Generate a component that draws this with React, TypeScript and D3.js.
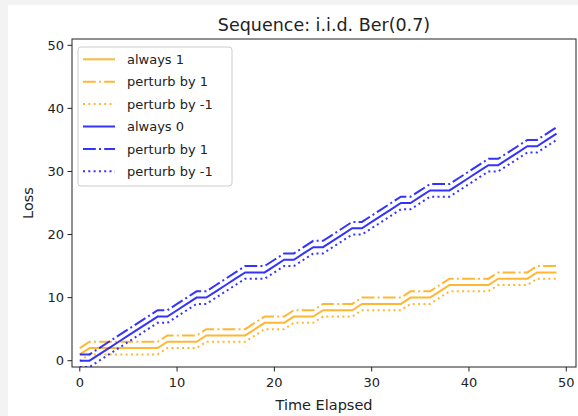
import React from "react";
import * as d3 from "d3";

// time index 0..49
const timeSteps = d3.range(50);

// cumulative losses
const alwaysOne = [1, 2, 2, 2, 2, 2, 2, 2, 2, 3, 3, 3, 3, 4, 4, 4, 4, 4, 5, 6, 6, 6, 7, 7, 7, 8, 8, 8, 8, 9, 9, 9, 9, 9, 10, 10, 10, 11, 12, 12, 12, 12, 12, 13, 13, 13, 13, 14, 14, 14];
const alwaysOnePlus = [2, 3, 3, 3, 3, 3, 3, 3, 3, 4, 4, 4, 4, 5, 5, 5, 5, 5, 6, 7, 7, 7, 8, 8, 8, 9, 9, 9, 9, 10, 10, 10, 10, 10, 11, 11, 11, 12, 13, 13, 13, 13, 13, 14, 14, 14, 14, 15, 15, 15];
const alwaysOneMinus = [0, 1, 1, 1, 1, 1, 1, 1, 1, 2, 2, 2, 2, 3, 3, 3, 3, 3, 4, 5, 5, 5, 6, 6, 6, 7, 7, 7, 7, 8, 8, 8, 8, 8, 9, 9, 9, 10, 11, 11, 11, 11, 11, 12, 12, 12, 12, 13, 13, 13];
const alwaysZero = [0, 0, 1, 2, 3, 4, 5, 6, 7, 7, 8, 9, 10, 10, 11, 12, 13, 14, 14, 14, 15, 16, 16, 17, 18, 18, 19, 20, 21, 21, 22, 23, 24, 25, 25, 26, 27, 27, 27, 28, 29, 30, 31, 31, 32, 33, 34, 34, 35, 36];
const alwaysZeroPlus = [1, 1, 2, 3, 4, 5, 6, 7, 8, 8, 9, 10, 11, 11, 12, 13, 14, 15, 15, 15, 16, 17, 17, 18, 19, 19, 20, 21, 22, 22, 23, 24, 25, 26, 26, 27, 28, 28, 28, 29, 30, 31, 32, 32, 33, 34, 35, 35, 36, 37];
const alwaysZeroMinus = [-1, -1, 0, 1, 2, 3, 4, 5, 6, 6, 7, 8, 9, 9, 10, 11, 12, 13, 13, 13, 14, 15, 15, 16, 17, 17, 18, 19, 20, 20, 21, 22, 23, 24, 24, 25, 26, 26, 26, 27, 28, 29, 30, 30, 31, 32, 33, 33, 34, 35];

const labels = ["always 1", "perturb by 1", "perturb by -1", "always 0", "perturb by 1", "perturb by -1"];
const xTicks = [0, 10, 20, 30, 40, 50];
const yTicks = [0, 10, 20, 30, 40, 50];

const ORANGE = "#ffa500";
const BLUE = "#0000ff";
const DASHDOT = "12.8,3.2,2,3.2";
const DOTTED = "2,3.3";
const FONT = "DejaVu Sans, sans-serif";

const series = [
  { values: alwaysOne, color: ORANGE, dash: undefined },
  { values: alwaysOnePlus, color: ORANGE, dash: DASHDOT },
  { values: alwaysOneMinus, color: ORANGE, dash: DOTTED },
  { values: alwaysZero, color: BLUE, dash: undefined },
  { values: alwaysZeroPlus, color: BLUE, dash: DASHDOT },
  { values: alwaysZeroMinus, color: BLUE, dash: DOTTED },
];

export default function App() {
  const W = 578, H = 416;
  const left = 72, right = 576, top = 39, bottom = 367;

  const x = d3.scaleLinear().domain([-0.8, 51]).range([left, right]);
  const y = d3.scaleLinear().domain([-1, 51]).range([bottom, top]);

  const lineGen = d3
    .line<number>()
    .x((d, i) => x(timeSteps[i]))
    .y((d) => y(d));

  const legX = 78, legY = 47, legW = 154, legH = 139;
  const rowH = 22.4;

  return (
    <svg
      width={W}
      height={H}
      style={{ position: "absolute", left: 0, top: 0 }}
      fontFamily={FONT}
    >
      <rect x={0} y={0} width={W} height={H} fill="#f3f3f3" />
      <rect x={8} y={5} width={W - 8} height={H - 5} fill="#ffffff" />

      <defs>
        <clipPath id="plot-clip">
          <rect x={left} y={top} width={right - left} height={bottom - top} />
        </clipPath>
      </defs>

      {/* title */}
      <text x={(left + right) / 2} y={31} textAnchor="middle" fontSize={17.5} fill="#222">
        Sequence: i.i.d. Ber(0.7)
      </text>

      {/* lines */}
      <g clipPath="url(#plot-clip)">
        {series.map((s, i) => (
          <path
            key={i}
            d={lineGen(s.values) || ""}
            fill="none"
            stroke={s.color}
            strokeOpacity={0.8}
            strokeWidth={2}
            strokeDasharray={s.dash}
          />
        ))}
      </g>

      {/* frame */}
      <rect x={left} y={top} width={right - left} height={bottom - top} fill="none" stroke="#222" strokeWidth={1} />

      {/* x axis */}
      {xTicks.map((t) => (
        <g key={"x" + t}>
          <line x1={x(t)} x2={x(t)} y1={bottom} y2={bottom + 4.5} stroke="#222" />
          <text x={x(t)} y={387} textAnchor="middle" fontSize={13} fill="#222">
            {t}
          </text>
        </g>
      ))}
      <text x={(left + right) / 2} y={410} textAnchor="middle" fontSize={14.5} fill="#222">
        Time Elapsed
      </text>

      {/* y axis */}
      {yTicks.map((t) => (
        <g key={"y" + t}>
          <line x1={left - 4.5} x2={left} y1={y(t)} y2={y(t)} stroke="#222" />
          <text x={left - 8} y={y(t) + 4.7} textAnchor="end" fontSize={13} fill="#222">
            {t}
          </text>
        </g>
      ))}
      <text
        transform={`translate(33, ${(top + bottom) / 2}) rotate(-90)`}
        textAnchor="middle"
        fontSize={14.5}
        fill="#222"
      >
        Loss
      </text>

      {/* legend */}
      <rect
        x={legX}
        y={legY}
        width={legW}
        height={legH}
        rx={3}
        fill="#ffffff"
        fillOpacity={0.8}
        stroke="#cccccc"
      />
      {series.map((s, i) => {
        const cy = legY + 12.3 + i * rowH;
        return (
          <g key={"leg" + i}>
            <line
              x1={83}
              x2={115}
              y1={cy}
              y2={cy}
              stroke={s.color}
              strokeOpacity={0.8}
              strokeWidth={2}
              strokeDasharray={s.dash}
            />
            <text x={127} y={cy + 4.7} fontSize={13} fill="#222">
              {labels[i]}
            </text>
          </g>
        );
      })}
    </svg>
  );
}
